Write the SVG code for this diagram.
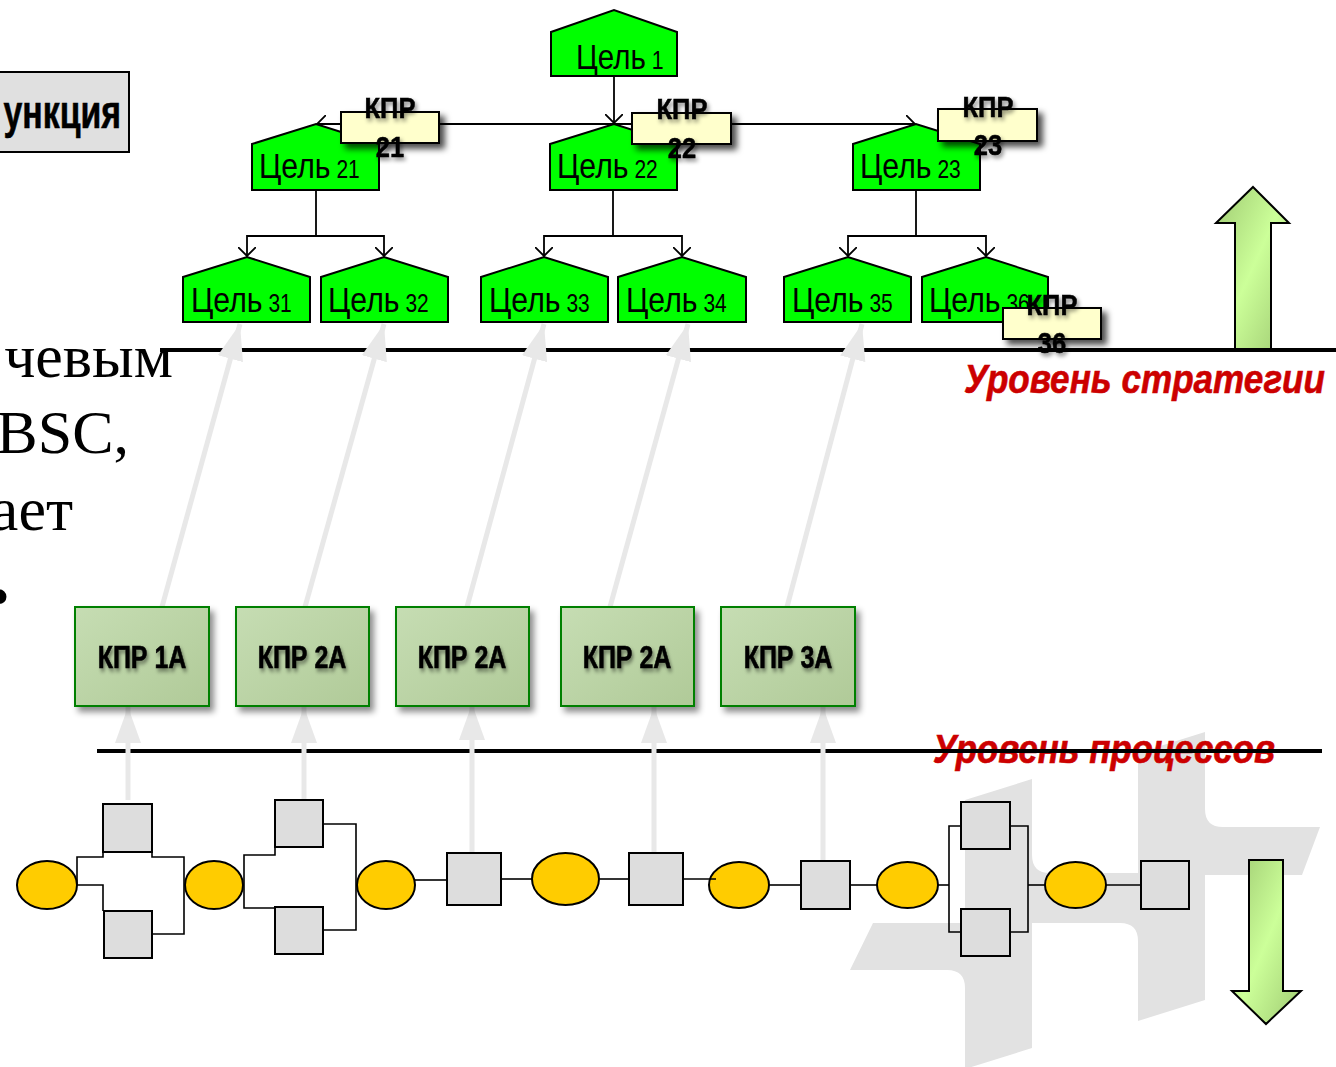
<svg xmlns="http://www.w3.org/2000/svg" width="1336" height="1067" viewBox="0 0 1336 1067">
  <defs>
    <style>
      .slide { font-family: "Liberation Serif", "Times New Roman", serif; font-size: 62px; fill: #000; }
      .goal { fill: #00ff00; stroke: #000; stroke-width: 2; }
      .goal-text { font-family: "Liberation Sans", Arial, sans-serif; fill: #000; }
      .tag { fill: #ffffcc; stroke: #000; stroke-width: 2; }
      .tag-text { font-family: "Liberation Sans", Arial, sans-serif; font-weight: bold; font-size: 29px; fill: #000; stroke: #000; stroke-width: 0.5; text-anchor: middle; }
      .kpi { fill: url(#kpiFill); stroke: #008000; stroke-width: 2; }
      .kpi-text { font-family: "Liberation Sans", Arial, sans-serif; font-weight: bold; font-size: 32px; fill: #000; stroke: #000; stroke-width: 0.6; text-anchor: middle; }
      .tree { fill: none; stroke: #000; stroke-width: 1.8; }
      .lift { fill: none; stroke: #e8e8e8; stroke-width: 5; }
      .level-line { stroke: #000; stroke-width: 4; }
      .level-text { font-family: "Liberation Sans", Arial, sans-serif; font-weight: bold; font-style: italic; font-size: 41px; fill: #cc0000; stroke: #cc0000; stroke-width: 0.6; }
      .step { fill: #dddddd; stroke: #000; stroke-width: 2; }
      .event { fill: #ffcc00; stroke: #000; stroke-width: 2; }
      .link { fill: none; stroke: #000; stroke-width: 1.6; }
      .big-arrow { fill: url(#arrowFill); stroke: #000; stroke-width: 2; }
    </style>
    <linearGradient id="kpiFill" x1="0" y1="0" x2="1" y2="1">
      <stop offset="0" stop-color="#c6ddb3"/>
      <stop offset="1" stop-color="#b0ca98"/>
    </linearGradient>
    <linearGradient id="arrowFill" x1="0" y1="0" x2="1" y2="1">
      <stop offset="0" stop-color="#9fca72"/>
      <stop offset="0.5" stop-color="#ccff99"/>
      <stop offset="1" stop-color="#9fca72"/>
    </linearGradient>
    <filter id="boxShadow" x="-20%" y="-20%" width="150%" height="160%">
      <feDropShadow dx="4" dy="5" stdDeviation="3" flood-color="#000" flood-opacity="0.45"/>
    </filter>
    <filter id="tagShadow" x="-20%" y="-30%" width="150%" height="180%">
      <feDropShadow dx="5" dy="5" stdDeviation="3" flood-color="#000" flood-opacity="0.7"/>
    </filter>
    <filter id="textShadow" x="-20%" y="-40%" width="150%" height="200%">
      <feDropShadow dx="2" dy="3" stdDeviation="2" flood-color="#000" flood-opacity="0.45"/>
    </filter>
    <marker id="openArrow" markerUnits="userSpaceOnUse" markerWidth="10" markerHeight="18" viewBox="0 0 10 18" refX="9" refY="9" orient="auto">
      <path d="M0,0 L9,9 L0,18" fill="none" stroke="#000" stroke-width="1.8"/>
    </marker>
    <marker id="liftHead" markerUnits="userSpaceOnUse" markerWidth="36" markerHeight="26" viewBox="0 0 36 26" refX="36" refY="13" orient="auto">
      <path d="M0,0 L36,13 L0,26 Z" fill="#e8e8e8"/>
    </marker>
  </defs>

  <!-- background slide text -->
  <g id="slide-text">
    <text class="slide" x="173" y="377" text-anchor="end">чевым</text>
    <text class="slide" x="129" y="453" text-anchor="end">BSC,</text>
    <text class="slide" x="73" y="530" text-anchor="end">ает</text>
    <text class="slide" x="10" y="617" text-anchor="end">•</text>
  </g>

  <!-- watermark emblem -->
  <path id="emblem" fill="#e2e2e2" d="M965,800 L1032,779 L1032,855 Q1032,873 1050,873 L1138,873 L1138,753 L1205,732 L1205,809 Q1205,827 1223,827 L1320,827 L1302,875 L1205,875 L1205,1000 L1138,1021 L1138,941 Q1138,923 1120,923 L1032,923 L1032,1048 L965,1069 L965,988 Q965,970 947,970 L850,970 L873,923 L965,923 Z"/>

  <!-- function box -->
  <g id="function-box">
    <rect x="-4" y="72" width="133" height="80" fill="#e0e0e0" stroke="#000" stroke-width="2"/>
    <text transform="translate(121,128) scale(0.72,1)" text-anchor="end" font-family="Liberation Sans, Arial, sans-serif" font-weight="bold" font-size="47" stroke="#000" stroke-width="0.6">ункция</text>
  </g>

  <!-- level lines and captions -->
  <g id="strategy-level">
    <line class="level-line" x1="160" y1="350" x2="1336" y2="350" stroke-width="3.5"/>
    <text class="level-text" x="964" y="393" textLength="361" lengthAdjust="spacingAndGlyphs">Уровень стратегии</text>
  </g>
  <g id="process-level">
    <text class="level-text" x="933" y="763" textLength="342" lengthAdjust="spacingAndGlyphs">Уровень процессов</text>
    <line class="level-line" x1="97" y1="751" x2="1322" y2="751"/>
  </g>

  <!-- big direction arrows -->
  <g id="arrow-up">
    <path class="big-arrow" d="M1253,187 L1289,223 L1271,223 L1271,349 L1235,349 L1235,223 L1216,223 Z"/>
  </g>
  <g id="arrow-down">
    <path class="big-arrow" d="M1249,860 L1283,860 L1283,991 L1301,991 L1266,1024 L1232,991 L1249,991 Z"/>
  </g>

  <!-- connectors -->
  <g id="connectors">
    <g id="goal-tree">
      <path class="tree" d="M614,76 V123" marker-end="url(#openArrow)"/>
      <path class="tree" d="M614,124 H317" marker-end="url(#openArrow)"/>
      <path class="tree" d="M614,124 H915" marker-end="url(#openArrow)"/>
      <path class="tree" d="M316,190 V236 H247 V256" marker-end="url(#openArrow)"/>
      <path class="tree" d="M316,236 H384 V256" marker-end="url(#openArrow)"/>
      <path class="tree" d="M613,190 V236 H544 V256" marker-end="url(#openArrow)"/>
      <path class="tree" d="M613,236 H682 V256" marker-end="url(#openArrow)"/>
      <path class="tree" d="M916,190 V236 H848 V256" marker-end="url(#openArrow)"/>
      <path class="tree" d="M916,236 H986 V256" marker-end="url(#openArrow)"/>
    </g>
    <g id="kpi-to-goal">
      <path class="lift" d="M162,607 L240,324" marker-end="url(#liftHead)"/>
      <path class="lift" d="M305,607 L384,324" marker-end="url(#liftHead)"/>
      <path class="lift" d="M467,607 L544,324" marker-end="url(#liftHead)"/>
      <path class="lift" d="M610,607 L688,324" marker-end="url(#liftHead)"/>
      <path class="lift" d="M787,607 L862,324" marker-end="url(#liftHead)"/>
    </g>
    <g id="process-to-kpi">
      <path class="lift" d="M128,800 V707" marker-end="url(#liftHead)"/>
      <path class="lift" d="M304,799 V707" marker-end="url(#liftHead)"/>
      <path class="lift" d="M472,855 V704" marker-end="url(#liftHead)"/>
      <path class="lift" d="M654,853 V707" marker-end="url(#liftHead)"/>
      <path class="lift" d="M823,861 V707" marker-end="url(#liftHead)"/>
    </g>
  </g>

  <!-- goal nodes -->
  <g id="goal-1">
    <polygon class="goal" points="551,32 614,10 677,32 677,76 551,76"/>
    <text class="goal-text" transform="translate(576,69) scale(0.82,1)"><tspan font-size="36">Цель</tspan><tspan font-size="26"> 1</tspan></text>
  </g>
  <g id="goal-21">
    <polygon class="goal" points="252,144 316,124 379,144 379,190 252,190"/>
    <text class="goal-text" transform="translate(259,178) scale(0.84,1)"><tspan font-size="36">Цель</tspan><tspan font-size="25"> 21</tspan></text>
  </g>
  <g id="goal-22">
    <polygon class="goal" points="550,144 614,124 677,144 677,190 550,190"/>
    <text class="goal-text" transform="translate(557,178) scale(0.84,1)"><tspan font-size="36">Цель</tspan><tspan font-size="25"> 22</tspan></text>
  </g>
  <g id="goal-23">
    <polygon class="goal" points="853,144 916,124 980,144 980,190 853,190"/>
    <text class="goal-text" transform="translate(860,178) scale(0.84,1)"><tspan font-size="36">Цель</tspan><tspan font-size="25"> 23</tspan></text>
  </g>
  <g id="goal-31">
    <polygon class="goal" points="183,277 247,257 310,277 310,322 183,322"/>
    <text class="goal-text" transform="translate(191,312) scale(0.84,1)"><tspan font-size="36">Цель</tspan><tspan font-size="25"> 31</tspan></text>
  </g>
  <g id="goal-32">
    <polygon class="goal" points="321,277 384,257 448,277 448,322 321,322"/>
    <text class="goal-text" transform="translate(328,312) scale(0.84,1)"><tspan font-size="36">Цель</tspan><tspan font-size="25"> 32</tspan></text>
  </g>
  <g id="goal-33">
    <polygon class="goal" points="481,277 544,257 608,277 608,322 481,322"/>
    <text class="goal-text" transform="translate(489,312) scale(0.84,1)"><tspan font-size="36">Цель</tspan><tspan font-size="25"> 33</tspan></text>
  </g>
  <g id="goal-34">
    <polygon class="goal" points="618,277 682,257 746,277 746,322 618,322"/>
    <text class="goal-text" transform="translate(626,312) scale(0.84,1)"><tspan font-size="36">Цель</tspan><tspan font-size="25"> 34</tspan></text>
  </g>
  <g id="goal-35">
    <polygon class="goal" points="784,277 848,257 911,277 911,322 784,322"/>
    <text class="goal-text" transform="translate(792,312) scale(0.84,1)"><tspan font-size="36">Цель</tspan><tspan font-size="25"> 35</tspan></text>
  </g>
  <g id="goal-36">
    <polygon class="goal" points="922,277 986,257 1048,277 1048,322 922,322"/>
    <text class="goal-text" transform="translate(929,312) scale(0.84,1)"><tspan font-size="36">Цель</tspan><tspan font-size="25"> 36</tspan></text>
  </g>

  <!-- KPI tags on goals -->
  <g id="tag-21">
    <rect class="tag" x="341" y="112" width="98" height="31" filter="url(#tagShadow)"/>
    <g filter="url(#textShadow)">
      <text class="tag-text" transform="translate(390,118) scale(0.88,1)">КПР</text>
      <text class="tag-text" transform="translate(390,157) scale(0.88,1)">21</text>
    </g>
  </g>
  <g id="tag-22">
    <rect class="tag" x="632" y="113" width="99" height="31" filter="url(#tagShadow)"/>
    <g filter="url(#textShadow)">
      <text class="tag-text" transform="translate(682,119) scale(0.88,1)">КПР</text>
      <text class="tag-text" transform="translate(682,158) scale(0.88,1)">22</text>
    </g>
  </g>
  <g id="tag-23">
    <rect class="tag" x="938" y="109" width="99" height="32" filter="url(#tagShadow)"/>
    <g filter="url(#textShadow)">
      <text class="tag-text" transform="translate(988,117) scale(0.88,1)">КПР</text>
      <text class="tag-text" transform="translate(988,155) scale(0.88,1)">23</text>
    </g>
  </g>
  <g id="tag-36">
    <rect class="tag" x="1003" y="308" width="98" height="31" filter="url(#tagShadow)"/>
    <g filter="url(#textShadow)">
      <text class="tag-text" transform="translate(1052,315) scale(0.88,1)">КПР</text>
      <text class="tag-text" transform="translate(1052,353) scale(0.88,1)">36</text>
    </g>
  </g>

  <!-- process KPI boxes -->
  <g id="kpi-1a">
    <rect class="kpi" x="75" y="607" width="134" height="99" filter="url(#boxShadow)"/>
    <text class="kpi-text" transform="translate(142,668) scale(0.78,1)" filter="url(#textShadow)">КПР 1А</text>
  </g>
  <g id="kpi-2a-1">
    <rect class="kpi" x="236" y="607" width="133" height="99" filter="url(#boxShadow)"/>
    <text class="kpi-text" transform="translate(302,668) scale(0.78,1)" filter="url(#textShadow)">КПР 2А</text>
  </g>
  <g id="kpi-2a-2">
    <rect class="kpi" x="396" y="607" width="133" height="99" filter="url(#boxShadow)"/>
    <text class="kpi-text" transform="translate(462,668) scale(0.78,1)" filter="url(#textShadow)">КПР 2А</text>
  </g>
  <g id="kpi-2a-3">
    <rect class="kpi" x="561" y="607" width="133" height="99" filter="url(#boxShadow)"/>
    <text class="kpi-text" transform="translate(627,668) scale(0.78,1)" filter="url(#textShadow)">КПР 2А</text>
  </g>
  <g id="kpi-3a">
    <rect class="kpi" x="721" y="607" width="134" height="99" filter="url(#boxShadow)"/>
    <text class="kpi-text" transform="translate(788,668) scale(0.78,1)" filter="url(#textShadow)">КПР 3А</text>
  </g>

  <!-- process chain: events and steps -->
  <g id="process-chain">
    <g id="event-1"><ellipse class="event" cx="47" cy="885" rx="30" ry="24"/></g>
    <g id="step-1a"><rect class="step" x="103" y="804" width="49" height="48"/></g>
    <g id="step-1b"><rect class="step" x="104" y="911" width="48" height="47"/></g>
    <g id="event-2"><ellipse class="event" cx="214" cy="885" rx="29" ry="24"/></g>
    <g id="step-2a"><rect class="step" x="275" y="800" width="48" height="47"/></g>
    <g id="step-2b"><rect class="step" x="275" y="907" width="48" height="47"/></g>
    <g id="event-3"><ellipse class="event" cx="386" cy="885" rx="29" ry="24"/></g>
    <g id="step-3"><rect class="step" x="447" y="853" width="54" height="52"/></g>
    <g id="event-4"><ellipse class="event" cx="565.5" cy="879" rx="33.5" ry="26"/></g>
    <g id="step-4"><rect class="step" x="629" y="853" width="54" height="52"/></g>
    <g id="event-5"><ellipse class="event" cx="739" cy="885" rx="30" ry="23"/></g>
    <g id="step-5"><rect class="step" x="801" y="861" width="49" height="48"/></g>
    <g id="event-6"><ellipse class="event" cx="907.5" cy="885" rx="30.5" ry="23"/></g>
    <g id="step-6a"><rect class="step" x="961" y="802" width="49" height="47"/></g>
    <g id="step-6b"><rect class="step" x="961" y="909" width="49" height="47"/></g>
    <g id="event-7"><ellipse class="event" cx="1075.5" cy="885" rx="30.5" ry="23"/></g>
    <g id="step-7"><rect class="step" x="1141" y="861" width="48" height="48"/></g>
  </g>

  <!-- process chain links -->
  <g id="process-links">
    <path class="link" d="M103,852 V857 H77 V885 H103 V911"/>
    <path class="link" d="M152,852 V857 H184 V934 H152"/>
    <path class="link" d="M275,847 V855 H244 V908 H275"/>
    <path class="link" d="M323,824 H356 V930 H323"/>
    <path class="link" d="M415,880 H447"/>
    <path class="link" d="M501,879 H532"/>
    <path class="link" d="M599,879 H629"/>
    <path class="link" d="M683,879 H716"/>
    <path class="link" d="M769,885 H801"/>
    <path class="link" d="M850,885 H877"/>
    <path class="link" d="M938,885 H949"/>
    <path class="link" d="M961,826 H949 V932 H961"/>
    <path class="link" d="M1010,826 H1028 V932 H1010"/>
    <path class="link" d="M1028,885 H1045"/>
    <path class="link" d="M1106,885 H1141"/>
  </g>
</svg>
